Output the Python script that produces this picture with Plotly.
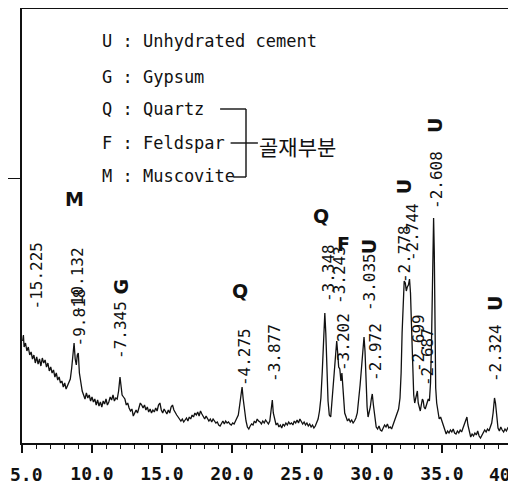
import plotly.graph_objects as go

# ---- data (2-theta in degrees, intensity in arbitrary units) ----
two_theta = [
    5.05, 5.1, 5.15, 5.25, 5.35, 5.45, 5.55, 5.65, 5.75, 5.85, 5.95, 6.05, 6.15, 6.25, 6.35, 6.45,
    6.55, 6.65, 6.75, 6.85, 6.95, 7.05, 7.15, 7.25, 7.35, 7.45, 7.55, 7.65, 7.75, 7.85, 7.95, 8.05,
    8.15, 8.25, 8.35, 8.45, 8.55, 8.65, 8.72, 8.8, 8.88, 8.95, 9.02, 9.1, 9.2, 9.3, 9.4, 9.5,
    9.6, 9.7, 9.8, 9.9, 10.0, 10.1, 10.2, 10.3, 10.4, 10.5, 10.6, 10.7, 10.8, 10.9, 11.0, 11.1,
    11.2, 11.3, 11.4, 11.5, 11.6, 11.7, 11.8, 11.9, 12.0, 12.06, 12.15, 12.25, 12.35, 12.45, 12.55, 12.65,
    12.75, 12.85, 12.95, 13.05, 13.15, 13.25, 13.35, 13.45, 13.55, 13.65, 13.75, 13.85, 13.95, 14.05, 14.15, 14.25,
    14.35, 14.45, 14.55, 14.65, 14.75, 14.85, 14.95, 15.05, 15.15, 15.25, 15.35, 15.45, 15.55, 15.65, 15.75, 15.85,
    15.95, 16.05, 16.15, 16.25, 16.35, 16.45, 16.55, 16.65, 16.75, 16.85, 16.95, 17.05, 17.15, 17.25, 17.35, 17.45,
    17.55, 17.65, 17.75, 17.85, 17.95, 18.05, 18.15, 18.25, 18.35, 18.45, 18.55, 18.65, 18.75, 18.85, 18.95, 19.05,
    19.15, 19.25, 19.35, 19.45, 19.55, 19.65, 19.75, 19.85, 19.95, 20.05, 20.15, 20.25, 20.35, 20.45, 20.55, 20.65,
    20.72, 20.8, 20.9, 21.0, 21.1, 21.2, 21.3, 21.4, 21.5, 21.6, 21.7, 21.8, 21.9, 22.0, 22.1, 22.2,
    22.3, 22.4, 22.5, 22.6, 22.7, 22.8, 22.88, 22.95, 23.05, 23.15, 23.25, 23.35, 23.45, 23.55, 23.65, 23.75,
    23.85, 23.95, 24.05, 24.15, 24.25, 24.35, 24.45, 24.55, 24.65, 24.75, 24.85, 24.95, 25.05, 25.15, 25.25, 25.35,
    25.45, 25.55, 25.65, 25.75, 25.85, 25.95, 26.05, 26.15, 26.25, 26.35, 26.45, 26.55, 26.63, 26.7, 26.78, 26.86,
    26.95, 27.05, 27.12, 27.2, 27.3, 27.4, 27.48, 27.55, 27.62, 27.7, 27.78, 27.85, 27.9, 27.98, 28.05, 28.15,
    28.25, 28.35, 28.45, 28.55, 28.65, 28.75, 28.85, 28.95, 29.05, 29.15, 29.25, 29.35, 29.43, 29.5, 29.58, 29.65,
    29.72, 29.8, 29.88, 29.95, 30.02, 30.1, 30.2, 30.3, 30.4, 30.5, 30.6, 30.7, 30.8, 30.9, 31.0, 31.1,
    31.2, 31.3, 31.4, 31.5, 31.6, 31.7, 31.8, 31.9, 32.0, 32.08, 32.15, 32.22, 32.3, 32.38, 32.45, 32.52,
    32.6, 32.68, 32.75, 32.82, 32.9, 32.98, 33.05, 33.12, 33.18, 33.24, 33.3, 33.38, 33.45, 33.52, 33.6, 33.66,
    33.72, 33.8, 33.88, 33.95, 34.02, 34.1, 34.18, 34.25, 34.3, 34.35, 34.4, 34.45, 34.5, 34.55, 34.62, 34.7,
    34.8, 34.9, 35.0, 35.1, 35.2, 35.3, 35.4, 35.5, 35.6, 35.7, 35.8, 35.9, 36.0, 36.1, 36.2, 36.3,
    36.4, 36.5, 36.6, 36.7, 36.78, 36.85, 36.95, 37.05, 37.15, 37.25, 37.35, 37.45, 37.55, 37.65, 37.75, 37.85,
    37.95, 38.05, 38.15, 38.25, 38.35, 38.45, 38.55, 38.65, 38.75, 38.82, 38.9, 39.0, 39.1, 39.2, 39.3, 39.4,
    39.5, 39.6, 39.7, 39.8, 39.9, 40.0,
]
intensity = [
    102, 108, 96, 100, 92, 96, 88, 91, 84, 88, 80, 86, 79, 84, 77, 85,
    80, 83, 76, 80, 72, 76, 70, 73, 66, 70, 63, 66, 60, 62, 56, 60,
    54, 57, 60, 64, 75, 92, 100, 84, 78, 88, 90, 70, 58, 52, 48, 44,
    50, 45, 48, 42, 46, 41, 44, 38, 43, 37, 41, 36, 42, 39, 44, 38,
    41, 46, 43, 48, 42, 45, 44, 52, 66, 60, 48, 46, 44, 38, 40, 35,
    32, 34, 27, 30, 33, 30, 36, 40, 38, 35, 38, 33, 36, 31, 34, 30,
    33, 31, 35, 32, 38, 40, 33, 30, 34, 31, 29, 33, 30, 36, 38, 33,
    30, 28, 26, 24, 22, 24, 21, 23, 25, 22, 26, 24, 28, 26, 30, 28,
    31, 27, 32, 29, 26, 24, 27, 25, 22, 24, 21, 24, 22, 20, 21, 18,
    17, 20, 22, 19, 22, 20, 21, 19, 18, 20, 19, 22, 25, 28, 38, 50,
    56, 44, 30, 22, 16, 14, 17, 19, 18, 22, 20, 24, 22, 21, 19, 22,
    20, 23, 21, 19, 22, 32, 43, 30, 22, 18, 20, 16, 18, 15, 19, 17,
    20, 18, 21, 19, 20, 18, 22, 20, 23, 20, 24, 22, 19, 21, 18, 20,
    17, 19, 16, 18, 15, 17, 20, 24, 32, 45, 72, 105, 130, 110, 70, 42,
    28, 26, 38, 56, 70, 88, 102, 90, 76, 74, 62, 70, 58, 40, 30, 26,
    22, 24, 21, 23, 20, 22, 25, 30, 42, 58, 75, 96, 106, 92, 60, 36,
    26, 30, 36, 44, 49, 38, 24, 16, 14, 17, 13, 12, 15, 18, 16, 19,
    15, 16, 14, 18, 22, 24, 28, 34, 45, 70, 110, 145, 162, 160, 152, 156,
    158, 164, 150, 118, 80, 48, 40, 44, 50, 52, 40, 34, 32, 38, 44, 42,
    36, 34, 38, 40, 44, 42, 60, 100, 160, 210, 225, 190, 110, 55, 40, 30,
    24, 26, 22, 16, 12, 9, 12, 10, 13, 11, 14, 10, 9, 12, 10, 13,
    11, 15, 20, 24, 26, 18, 12, 6, 9, 7, 10, 8, 12, 7, 5, 8,
    10, 13, 11, 14, 12, 16, 20, 30, 45, 40, 25, 15, 12, 16, 13, 11,
    14, 12, 15, 13, 12, 14,
]

tick_vals = [5, 10, 15, 20, 25, 30, 35, 40]
tick_text = ["", "10.0", "15.0", "20.0", "25.0", "30.0", "35.0", ""]
first_tick_text = "5.0"
last_tick_text = "40"
minor_vals = [6, 7, 8, 9, 11, 12, 13, 14, 16, 17, 18, 19, 21, 22, 23, 24,
              26, 27, 28, 29, 31, 32, 33, 34, 36, 37, 38, 39]

# d-spacing labels: text, 2-theta of label, intensity level of the label's foot
peak_labels = ["-15.225", "-10.132", "-9.818", "-7.345", "-4.275", "-3.877", "-3.348", "-3.243",
               "-3.202", "-3.035", "-2.972", "-2.778", "-2.744", "-2.699", "-2.687", "-2.608", "-2.324"]
label_theta = [6.07, 8.95, 9.1, 12.0, 20.86, 23.0, 26.86, 27.64,
               27.93, 29.79, 30.21, 32.29, 32.86, 33.29, 33.93, 34.57, 38.79]
label_level = [132, 126, 95, 82, 55, 59, 139, 137,
               70, 130, 60, 158, 180, 69, 55, 232, 59]

# phase letters written above the peaks
phase_letters = ["M", "G", "Q", "Q", "F", "U", "U", "U", "U"]
phase_theta = [8.75, 12.1, 20.57, 26.36, 27.95, 29.8, 32.3, 34.5, 38.79]
phase_level = [244, 157, 152, 227, 199, 196, 256, 317, 139]
phase_angle = [0, -90, 0, 0, 0, -90, -90, -90, -90]

legend_lines = ["U : Unhydrated cement", "G : Gypsum", "Q : Quartz", "F : Feldspar", "M : Muscovite"]
legend_level = [402, 366, 334, 300, 267]
group_label = "골재부분"

fig = go.Figure()
fig.add_trace(go.Scatter(x=two_theta, y=intensity, mode="lines",
                         line=dict(color="#111111", width=1.3), hoverinfo="skip",
                         showlegend=False))

mono = "DejaVu Sans Mono"
tickfont = dict(family=mono, size=18, color="#111111", weight="bold")
ann = []
for t, x, y in zip(peak_labels, label_theta, label_level):
    ann.append(dict(x=x, y=y, text=t, textangle=-90, showarrow=False,
                    xanchor="center", yanchor="bottom",
                    font=dict(family=mono, size=16, color="#111111")))
for t, x, y, a in zip(phase_letters, phase_theta, phase_level, phase_angle):
    ann.append(dict(x=x, y=y, text=t, textangle=a, showarrow=False,
                    xanchor="center", yanchor="middle",
                    font=dict(family="DejaVu Sans", size=19, color="#111111", weight="bold")))
for t, y in zip(legend_lines, legend_level):
    ann.append(dict(x=10.57, y=y, text=t, showarrow=False, xanchor="left", yanchor="middle",
                    font=dict(family=mono, size=17, color="#111111")))
ann.append(dict(x=21.75, y=297, text=group_label, showarrow=False, xanchor="left",
                yanchor="middle", font=dict(family="Noto Sans CJK KR", size=21, color="#111111")))
# first and last tick labels, kept inside the page
ann.append(dict(x=0, xref="paper", y=0, yref="paper", text=first_tick_text, showarrow=False,
                xanchor="left", yanchor="top", xshift=-14, yshift=-19, font=tickfont))
ann.append(dict(x=1, xref="paper", y=0, yref="paper", text=last_tick_text, showarrow=False,
                xanchor="right", yanchor="top", xshift=1, yshift=-19, font=tickfont))

# bracket connecting Quartz / Feldspar / Muscovite to the group label
br = dict(color="#111111", width=1.4)
shapes = [
    dict(type="line", x0=19.15, x1=21.0, y0=334, y1=334, line=br),
    dict(type="line", x0=21.0, x1=21.0, y0=334, y1=266, line=br),
    dict(type="line", x0=20.1, x1=21.0, y0=266, y1=266, line=br),
    dict(type="line", x0=19.9, x1=21.85, y0=300, y1=300, line=br),
]

# the page body adds an 8 px offset, so the figure is sized to fill the rest of the window
fig.update_layout(
    width=508, height=481,
    margin=dict(l=14, r=4, t=1, b=46, autoexpand=False),
    paper_bgcolor="white", plot_bgcolor="white",
    annotations=ann, shapes=shapes,
    xaxis=dict(range=[5, 40], tickmode="array", tickvals=tick_vals, ticktext=tick_text,
               automargin=False,
               showgrid=False, zeroline=False, showline=True, linecolor="#111111",
               linewidth=2, mirror=True, ticks="outside", ticklen=8, tickwidth=1.6,
               tickcolor="#111111", ticklabelstandoff=5, tickfont=tickfont,
               minor=dict(tickmode="array", tickvals=minor_vals, ticks="outside", ticklen=4,
                          tickwidth=1.3, tickcolor="#111111", showgrid=False)),
    yaxis=dict(range=[0, 434], tickvals=[265], ticktext=[""], showgrid=False,
               automargin=False,
               zeroline=False, showline=True, linecolor="#111111", linewidth=2,
               mirror=True, ticks="outside", ticklen=12, tickwidth=1.4,
               tickcolor="#111111"),
)

fig.write_html("out.html")
